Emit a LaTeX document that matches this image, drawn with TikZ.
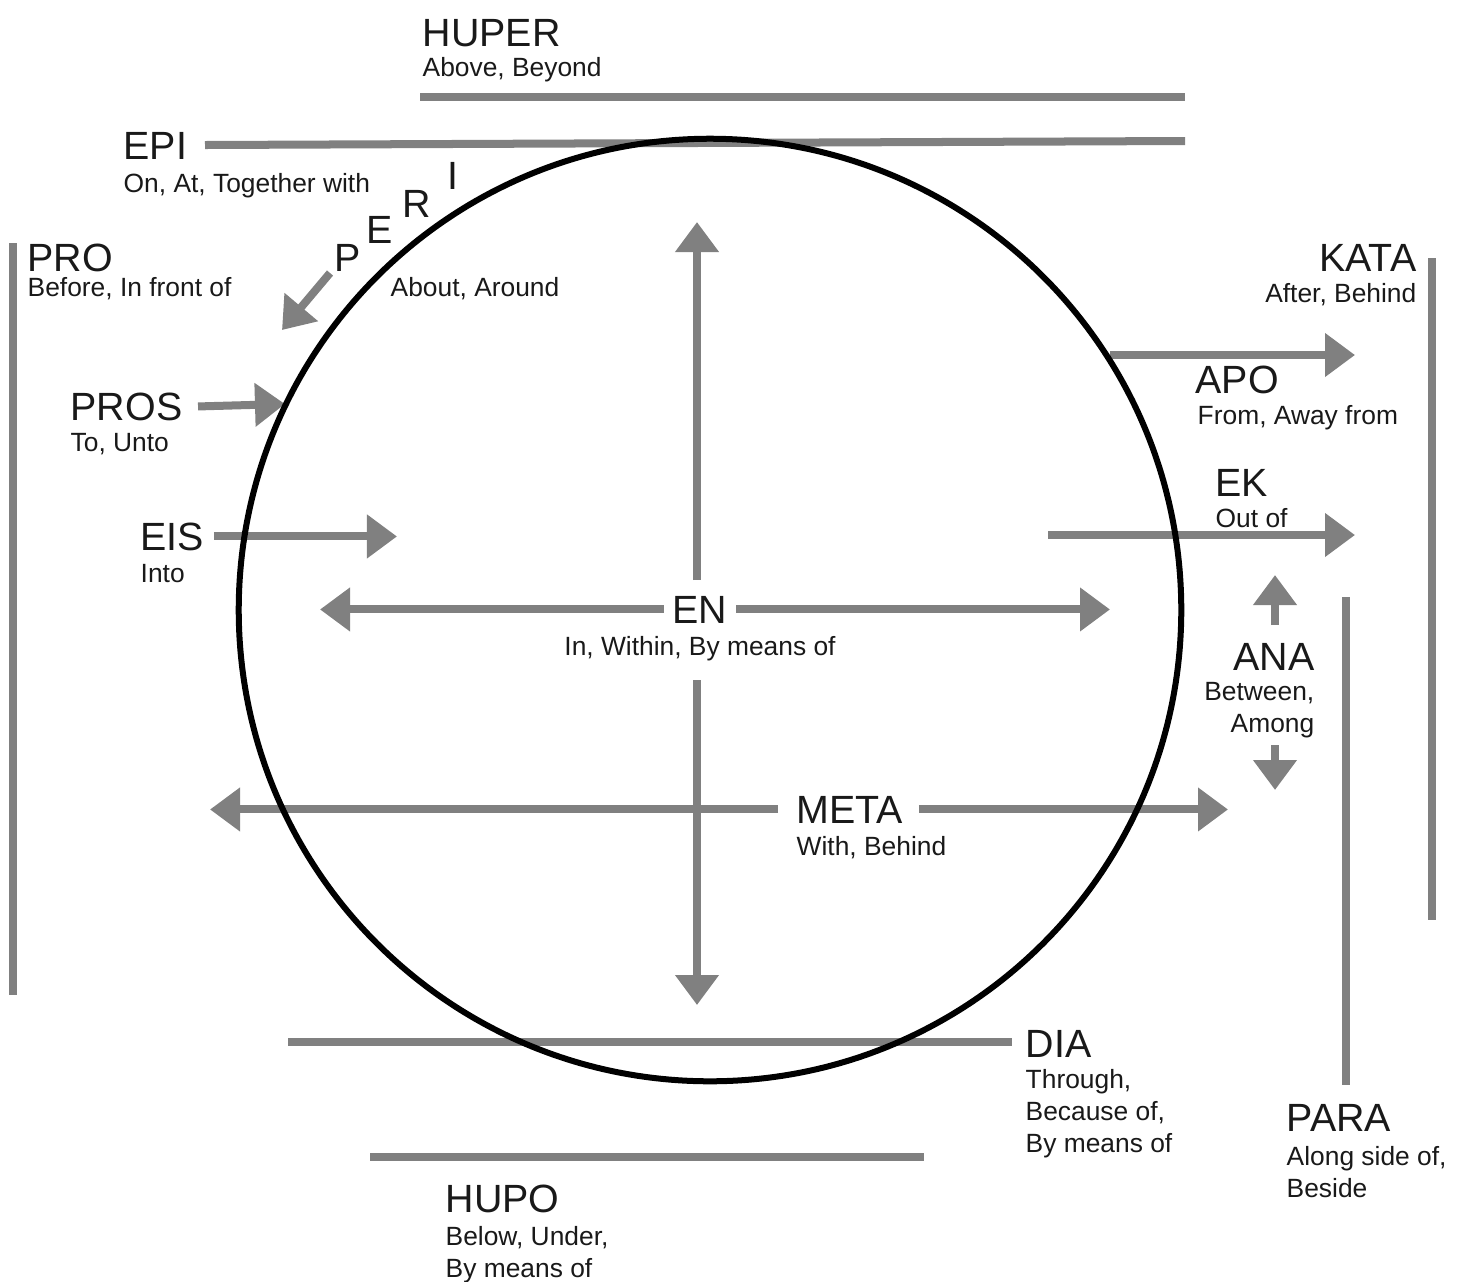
\documentclass[tikz,border=0pt]{standalone}
\usepackage{fontspec}
\setmainfont{Liberation Sans}
\usetikzlibrary{arrows.meta}
\definecolor{lg}{RGB}{128,128,128}
\definecolor{tx}{RGB}{25,25,25}
\begin{document}
\begin{tikzpicture}[x=0.01cm,y=-0.01cm,
  gl/.style={draw=lg, line width=0.08cm},
  ar/.style={gl, -{Triangle[length=0.3cm,width=0.42cm]}},
  big/.style={font=\fontsize{11.2}{13}\selectfont, inner sep=0pt, text=tx},
  sm/.style={font=\fontsize{7.5}{9.1}\selectfont, inner sep=0pt, text=tx, align=left},
  smr/.style={sm, align=right},
  ring/.style={draw=black, line width=0.06cm}]
\useasboundingbox (0,0) rectangle (1461,1281);

% ---- labels ----
\node[big, anchor=base west] (huper) at (422,46) {HUPER};
\node[sm, anchor=base west] (huperS) at (422,76) {Above, Beyond};
\node[big, anchor=base west] (epi) at (123,159) {EPI};
\node[sm, anchor=base west] (epiS) at (123,192) {On, At, Together with};
\node[big, anchor=base west] (pro) at (27,271) {PRO};
\node[sm, anchor=base west] (proS) at (27,296) {Before, In front of};
\node[big, anchor=base west] (pros) at (70,420) {PROS};
\node[sm, anchor=base west] (prosS) at (70,451) {To, Unto};
\node[big, anchor=base west] (eis) at (140,550) {EIS};
\node[sm, anchor=base west] (eisS) at (140,582) {Into};
\node[big, anchor=base west] (periP) at (334,271) {P};
\node[big, anchor=base west] (periE) at (366,243) {E};
\node[big, anchor=base west] (periR) at (402,217) {R};
\node[big, anchor=base west] (periI) at (447,189) {I};
\node[sm, anchor=base west] (periS) at (390,296) {About, Around};
\node[big, anchor=base, inner xsep=0.08cm] (en) at (700,623) {EN};
\node[sm, anchor=base] (enS) at (700,655) {In, Within, By means of};
\node[big, anchor=base west] (meta) at (796,823) {META};
\node[sm, anchor=base west] (metaS) at (796,855) {With, Behind};
\node[big, anchor=base east] (kata) at (1417,271) {KATA};
\node[sm, anchor=base east] (kataS) at (1417,302) {After, Behind};
\node[big, anchor=base west] (apo) at (1195,393) {APO};
\node[sm, anchor=base west] (apoS) at (1197,424) {From, Away from};
\node[big, anchor=base west] (ek) at (1215,496) {EK};
\node[sm, anchor=base west] (ekS) at (1215,527) {Out of};
\node[big, anchor=base east] (ana) at (1315,670) {ANA};
\node[smr, anchor=base east] (anaS) at (1315,732) {Between,\\Among};
\node[big, anchor=base west] (dia) at (1025,1057) {DIA};
\node[sm, anchor=base west] (diaS) at (1025,1152) {Through,\\Because of,\\By means of};
\node[big, anchor=base west] (para) at (1286,1131) {PARA};
\node[sm, anchor=base west] (paraS) at (1286,1197) {Along side of,\\Beside};
\node[big, anchor=base west] (hupo) at (445,1212) {HUPO};
\node[sm, anchor=base west] (hupoS) at (445,1277) {Below, Under,\\By means of};

% ---- coordinates ----
\coordinate (huperA) at (420,97);   \coordinate (huperB) at (1185,97);
\coordinate (epiA) at (205,145);    \coordinate (epiB) at (1185,141);
\coordinate (proA) at (13,243);     \coordinate (proB) at (13,995);
\coordinate (kataA) at (1432,258);  \coordinate (kataB) at (1432,920);
\coordinate (paraA) at (1346,597);  \coordinate (paraB) at (1346,1085);
\coordinate (diaA) at (288,1042);   \coordinate (diaB) at (1012,1042);
\coordinate (hupoA) at (370,1157);  \coordinate (hupoB) at (924,1157);
\coordinate (periA) at (330,273);   \coordinate (periB) at (282,330);
\coordinate (prosT) at (285,404);
\coordinate (eisT) at (397,535);
\coordinate (enL) at (320,610);     \coordinate (enR) at (1110,610);
\coordinate (enUpS) at (697,580);   \coordinate (enUp) at (697,222);
\coordinate (enDnS) at (697,680);   \coordinate (enDn) at (697,1005);
\coordinate (metaL) at (210,810);   \coordinate (metaR) at (1228,810);
\coordinate (apoA) at (1110,355);   \coordinate (apoB) at (1355,355);
\coordinate (ekA) at (1048,535);    \coordinate (ekB) at (1355,535);
\coordinate (anaUpS) at (1275,625); \coordinate (anaUp) at (1275,575);
\coordinate (anaDnS) at (1275,745); \coordinate (anaDn) at (1275,790);
\coordinate (ctr) at (710,610);

% ---- gray bars ----
\draw[gl] (huperA) -- (huperB);
\draw[gl] (epiA) -- (epiB);
\draw[gl] (proA) -- (proB);
\draw[gl] (kataA) -- (kataB);
\draw[gl] (paraA) -- (paraB);
\draw[gl] (diaA) -- (diaB);
\draw[gl] (hupoA) -- (hupoB);

% ---- arrows ----
\draw[ar] (periA) -- (periB);
\draw[ar] ([xshift=0.15cm]pros.east) -- (prosT);
\draw[ar] ([xshift=0.09cm]eis.east) -- (eis.east -| eisT);
\draw[ar] (en.west) -- (en.west -| enL);
\draw[ar] (en.east) -- (en.east -| enR);
\draw[ar] (enUpS) -- (enUp);
\draw[ar] (enDnS) -- (enDn);
\draw[ar] ([xshift=-0.18cm]meta.west) -- (meta.west -| metaL);
\draw[ar] ([xshift=0.15cm]meta.east) -- (meta.east -| metaR);
\draw[ar] (apoA) -- (apoB);
\draw[ar] (ekA) -- (ekB);
\draw[ar] (anaUpS) -- (anaUp);
\draw[ar] (anaDnS) -- (anaDn);

% ---- circle ----
\draw[ring] (ctr) circle[radius=4.71cm];
\end{tikzpicture}
\end{document}
